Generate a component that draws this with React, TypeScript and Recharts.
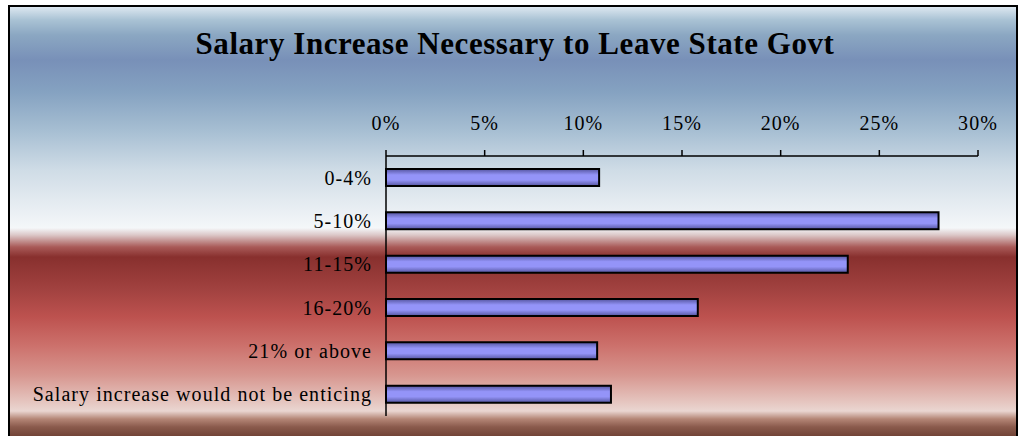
import React from "react";
import { BarChart, Bar, XAxis, YAxis } from "recharts";

// categories and shares (percent of respondents)
const categories = [
  "0-4%",
  "5-10%",
  "11-15%",
  "16-20%",
  "21% or above",
  "Salary increase would not be enticing",
];
const shares = [10.8, 28.0, 23.4, 15.8, 10.7, 11.4];
const xTicks = [0, 5, 10, 15, 20, 25, 30];

const data = categories.map((name, i) => ({ name, value: shares[i] }));

const serif = "'Liberation Serif', 'Times New Roman', serif";

const background = `linear-gradient(to bottom,
  #dce7f0 0px, #a9c2d4 13px, #8ba7c2 28px, #7890b8 53px, #85a2c1 85px,
  #a6bed2 123px, #cfdce6 163px, #e3eaf0 193px, #f4f7f9 221px,
  #dcc8c8 228px, #a95a58 240px, #88302e 250px, #a24240 283px,
  #bd524f 310px, #cc706b 338px, #d7968f 368px, #e4c2bc 393px,
  #ead6d1 404px, #b48676 412px, #8a5a4c 420px, #6a3c30 432px)`;

export default function App() {
  return (
    <div
      style={{
        position: "absolute",
        left: 8,
        top: 5,
        width: 1010,
        height: 431,
        overflow: "hidden",
        boxSizing: "border-box",
        borderTop: "2px solid #000",
        borderLeft: "2px solid #000",
        borderRight: "2px solid #000",
        background,
        fontFamily: serif,
        letterSpacing: "1.05px",
      }}
    >
      <div
        style={{
          position: "absolute",
          left: 0,
          right: 0,
          top: 19,
          paddingLeft: 4,
          textAlign: "center",
          fontSize: 31,
          fontWeight: "bold",
          letterSpacing: "0.55px",
          color: "#000",
        }}
      >
        Salary Increase Necessary to Leave State Govt
      </div>
      {/* clip the chart just below the last bar so the axis line stops there */}
      <div style={{ width: 1006, height: 411, overflow: "hidden" }}>
        <BarChart
          width={1006}
          height={410}
          data={data}
          layout="vertical"
          margin={{ top: 119, right: 38, bottom: 1, left: 0 }}
          barCategoryGap={0}
          style={{ overflow: "hidden" }}
        >
          <defs>
            <linearGradient id="barFill" x1="0" y1="0" x2="0" y2="1">
              <stop offset="0%" stopColor="#55559f" />
              <stop offset="35%" stopColor="#9494f8" />
              <stop offset="65%" stopColor="#9494f8" />
              <stop offset="100%" stopColor="#55559f" />
            </linearGradient>
          </defs>
          <XAxis
            type="number"
            orientation="top"
            domain={[0, 30]}
            ticks={xTicks}
            interval={0}
            height={30}
            tickFormatter={(v) => `${v}%`}
            tick={{ fill: "#000", fontSize: 20, fontFamily: serif }}
            axisLine={{ stroke: "#000", strokeWidth: 1.5 }}
            tickLine={{ stroke: "#000", strokeWidth: 1.5 }}
            tickSize={6}
            tickMargin={20}
          />
          <YAxis
            type="category"
            dataKey="name"
            width={376}
            interval={0}
            tick={{ fill: "#000", fontSize: 20, fontFamily: serif }}
            axisLine={{ stroke: "#000", strokeWidth: 1.5 }}
            tickLine={false}
            tickSize={0}
            tickMargin={14}
          />
          <Bar
            dataKey="value"
            fill="url(#barFill)"
            stroke="#000"
            strokeWidth={2}
            barSize={17}
            isAnimationActive={false}
          />
        </BarChart>
      </div>
    </div>
  );
}
